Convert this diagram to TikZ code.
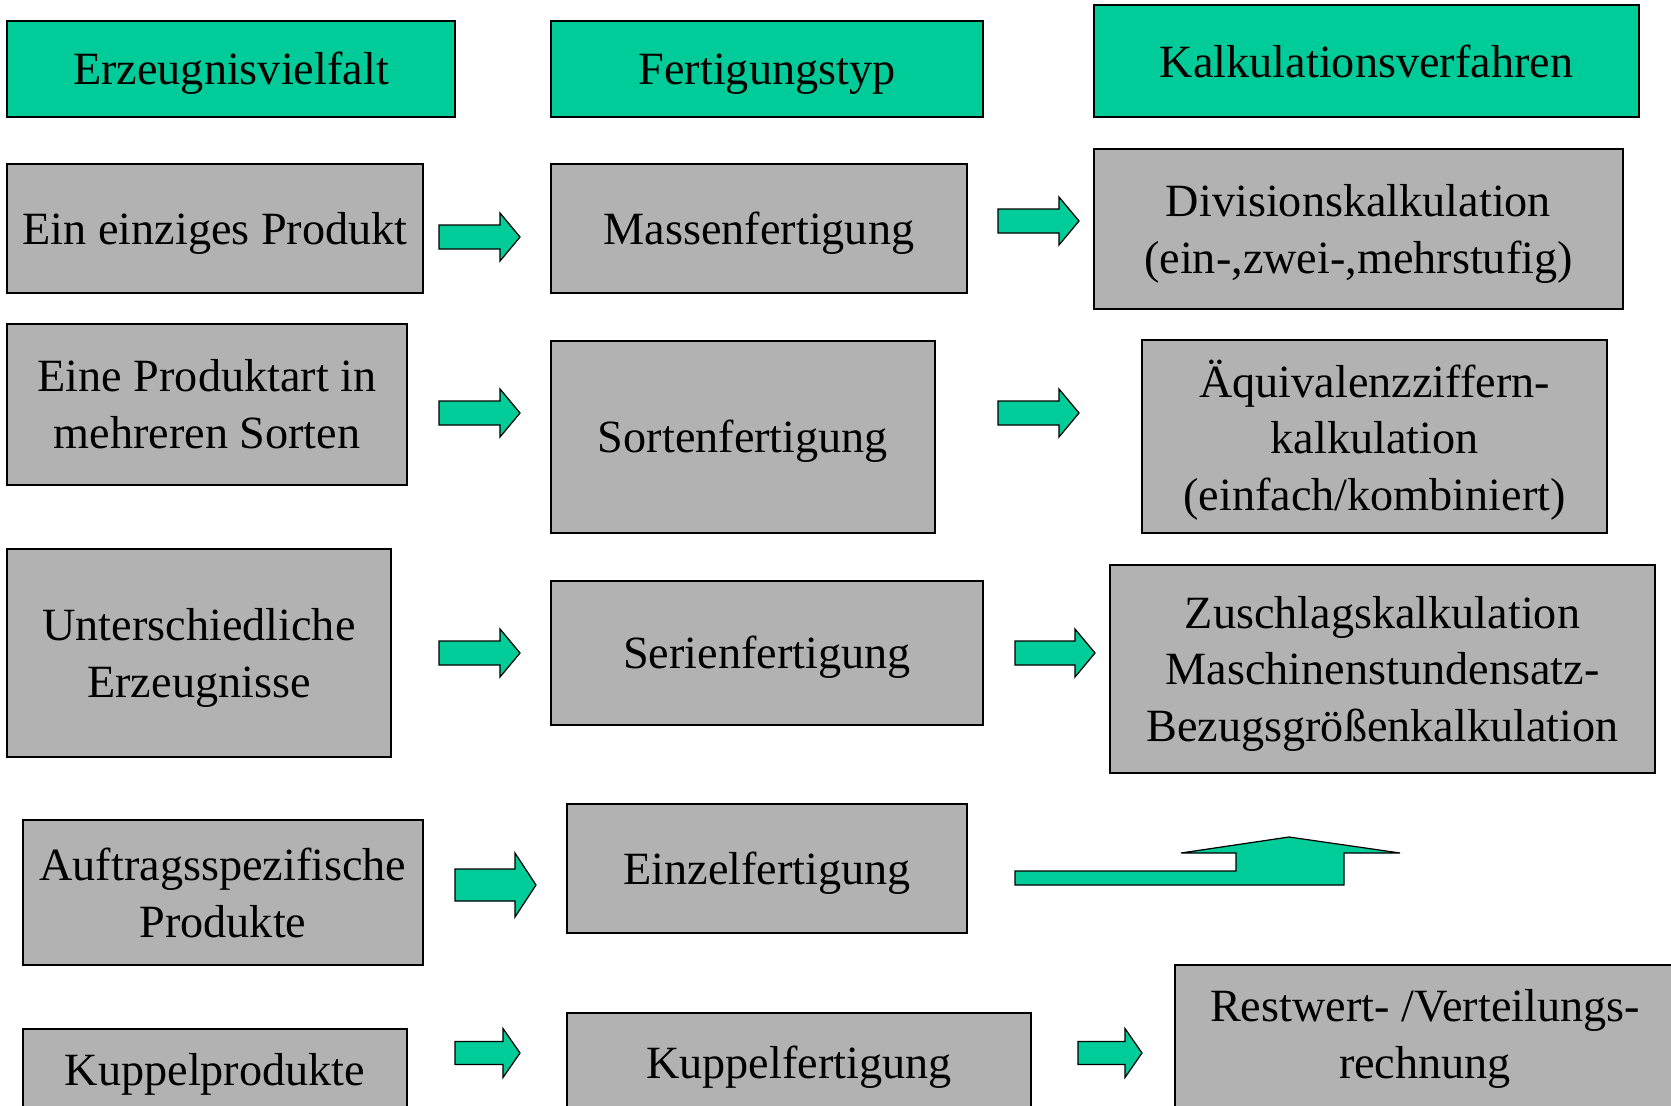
\documentclass[tikz,border=0pt]{standalone}
\usepackage{fontspec}
\setmainfont{Liberation Serif}
\definecolor{headgreen}{RGB}{0,204,153}
\definecolor{boxgrey}{RGB}{178,178,178}
% lowers a centred text a little
\newcommand{\capstrut}[1][23.8pt]{\rule{0pt}{#1}}
% block arrow: start, length, shaft half height, head half height, head length
\newcommand{\blockarrow}[5]{%
  \draw[arrowbody] #1 ++(0,-#3) -- ++({#2-#5},0) -- ++(0,{#3-#4}) -- ++(#5,#4)
    -- ++(-#5,#4) -- ++(0,{#3-#4}) -- ++({-(#2-#5)},0) -- cycle;}

\begin{document}
\begin{tikzpicture}[x=0.02cm, y=-0.02cm,
  every node/.style={font={\fontsize{26.3}{32.4}\selectfont}, inner sep=0pt, align=center},
  headbox/.style={draw, line width=1.1pt, fill=headgreen},
  greybox/.style={draw, line width=1.1pt, fill=boxgrey},
  arrowbody/.style={draw, line width=0.7pt, fill=headgreen}]
\useasboundingbox (0,0) rectangle (1671,1106);
\clip (0,0) rectangle (1671,1106);

% column heads
\node[headbox, minimum width=8.96cm, minimum height=1.92cm] (erz) at (231,69) {\capstrut Erzeugnisvielfalt};
\node[headbox, minimum width=8.64cm, minimum height=1.92cm] (ftyp) at (767,69) {\capstrut Fertigungstyp};
\node[headbox, minimum width=10.9cm, minimum height=2.24cm] (kalk) at (1366.5,61) {Kalkulationsverfahren};

% rows
\node[greybox, minimum width=8.32cm, minimum height=2.58cm] (einzig) at (215,228.5) {\capstrut Ein einziges Produkt};
\node[greybox, minimum width=8.32cm, minimum height=2.58cm] (massen) at (759,228.5) {\capstrut Massenfertigung};
\node[greybox, minimum width=10.58cm, minimum height=3.2cm] (division) at (1358.5,229) {\capstrut Divisionskalkulation\\(ein-,zwei-,mehrstufig)};

\node[greybox, minimum width=8cm, minimum height=3.22cm] (sorten1) at (207,404.5) {Eine Produktart in\\mehreren Sorten};
\node[greybox, minimum width=7.68cm, minimum height=3.84cm] (sorten2) at (743,437) {\capstrut Sortenfertigung};
\node[greybox, minimum width=9.3cm, minimum height=3.86cm] (aequiv) at (1374.5,436.5) {\capstrut[25.5pt]Äquivalenzziffern-\\kalkulation\\(einfach/kombiniert)};

\node[greybox, minimum width=7.68cm, minimum height=4.16cm] (unters) at (199,653) {\capstrut Unterschiedliche\\Erzeugnisse};
\node[greybox, minimum width=8.64cm, minimum height=2.88cm] (serien) at (767,653) {\capstrut Serienfertigung};
\node[greybox, minimum width=10.9cm, minimum height=4.16cm] (zuschlag) at (1382.5,669) {\capstrut Zuschlagskalkulation\\Maschinenstundensatz-\\Bezugsgrößenkalkulation};

\node[greybox, minimum width=8cm, minimum height=2.9cm] (auftrag) at (223,892.5) {Auftragsspezifische\\Produkte};
\node[greybox, minimum width=8cm, minimum height=2.58cm] (einzel) at (767,868.5) {\capstrut Einzelfertigung};

\node[greybox, minimum width=7.68cm, minimum height=1.8cm] (kuppel1) at (215,1074) {Kuppelprodukte};
\node[greybox, minimum width=9.28cm, minimum height=2.18cm] (kuppel2) at (799,1067.5) {Kuppelfertigung};
\node[greybox, minimum width=10cm, minimum height=2.94cm] (restwert) at (1425,1038.5) {Restwert- /Verteilungs-\\rechnung};

% block arrows
\foreach \x/\y/\len/\s/\hh/\hl in {439/237/81/12/24/20, 998/221/81/12/24/20,
    439/413/81/12/24/20, 998/413/81/12/24/20, 439/653/81/12/24/20, 1015/653/80/12/24/20,
    455/885/81/16/32/21, 455/1053/65/11.5/24.5/17, 1078/1053/64/11.5/24.5/17}
  \blockarrow{(\x,\y)}{\len}{\s}{\hh}{\hl};

% bent arrow from Einzelfertigung up to Zuschlagskalkulation
\draw[arrowbody] (1015,871) -- (1236,871) -- (1236,853) -- (1181,853) -- (1289,837)
  -- (1400,853) -- (1344,853) -- (1344,885) -- (1015,885) -- cycle;
\end{tikzpicture}
\end{document}
